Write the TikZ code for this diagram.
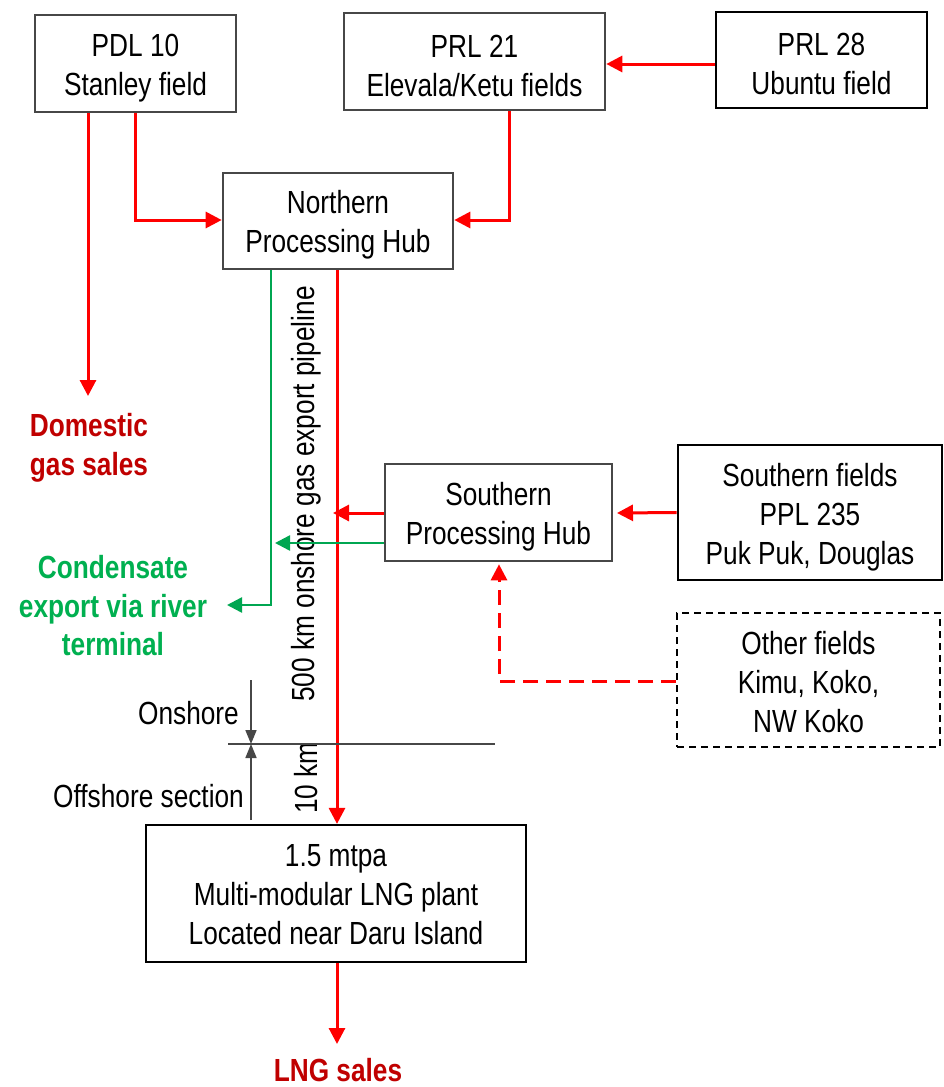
\documentclass[tikz,border=0pt]{standalone}
\usepackage{fontspec}
\setmainfont{Liberation Sans}[FakeStretch=0.82]
\usetikzlibrary{arrows.meta,calc}
\definecolor{rd}{HTML}{FF0000}
\definecolor{dkred}{HTML}{C00000}
\definecolor{grn}{HTML}{00A651}
\definecolor{gtxt}{HTML}{00B050}
\newcommand\mystrut[1]{\rule{0pt}{#1}}
\begin{document}
\begin{tikzpicture}[x=1pt,y=-1pt,
  txt/.style={font=\fontsize{32}{39}\selectfont, align=center, inner sep=0pt},
  box/.style={txt, draw=black!72, line width=2.6pt},
  bbox/.style={txt, draw=black, line width=2.9pt},
  rline/.style={draw=rd, line width=3pt, -{Triangle[length=16pt,width=16pt]}},
  gline/.style={draw=grn, line width=2.5pt, -{Triangle[length=15pt,width=15pt]}},
  kline/.style={draw=black!72, line width=1.7pt, -{Triangle[length=14pt,width=11pt]}},
  outtxt/.style={txt, font=\fontsize{32}{38.5}\selectfont\bfseries},
]
\useasboundingbox (0,0) rectangle (943,1087);
\fill[white] (0,0) rectangle (943,1087);

\node[box, minimum width=201pt, minimum height=97pt] (pdl) at (135.5,63.5) {\mystrut{31pt}PDL 10\\Stanley field};
\node[box, minimum width=261pt, minimum height=97pt] (prl21) at (474.5,61.5) {\mystrut{31pt}PRL 21\\Elevala/Ketu fields};
\node[bbox, minimum width=211pt, minimum height=96pt] (prl28) at (821.5,60) {\mystrut{31pt}PRL 28\\Ubuntu field};
\node[box, minimum width=230pt, minimum height=96pt] (nph) at (338,221) {\mystrut{31pt}Northern\\Processing Hub};
\node[box, minimum width=227pt, minimum height=97pt] (sph) at (498.5,512.5) {\mystrut{32pt}Southern\\Processing Hub};
\node[bbox, minimum width=264pt, minimum height=135pt] (sf) at (810,512.5) {\mystrut{32pt}Southern fields\\PPL 235\\Puk Puk, Douglas};
\node[txt, draw=black, line width=1.8pt, dash pattern=on 7pt off 5pt, minimum width=263pt, minimum height=134pt] (of) at (808.5,680) {\mystrut{28pt}Other fields\\Kimu, Koko,\\NW Koko};
\node[txt, draw=black, line width=2.2pt, minimum width=380pt, minimum height=137pt] (lng) at (336,893.5) {\mystrut{25pt}1.5 mtpa\\Multi-modular LNG plant\\Located near Daru Island};

\node[outtxt, text=dkred] (dom) at (89,448) {Domestic\\gas sales};
\node[outtxt, text=gtxt] (cond) at (113,606) {Condensate\\export via river\\terminal};
\node[outtxt, text=dkred] (lngs) at (338,1070) {LNG sales};

\node[txt, rotate=90] (pipe) at (306,494) {500 km onshore gas export pipeline};
\node[txt, rotate=90] (tenkm) at (306,778) {10 km};
\node[txt, anchor=east] (onsh) at (239,713) {Onshore};
\node[txt, anchor=east] (offsh) at (244,796) {Offshore section};

% coordinates
\coordinate (domtip) at (88,396);
\coordinate (b1) at (135,220);
\coordinate (b2) at (509,220);
\coordinate (gcorner) at (271,605);
\coordinate (gtip) at (227,605);
\coordinate (rtip) at (333,513);
\coordinate (g2tip) at (275,543);
\coordinate (dcorner) at (499,681);
\coordinate (lngtip) at (337,1044);
\coordinate (hl) at (228,744);
\coordinate (hr) at (495,744);
\coordinate (onstart) at (251,680);
\coordinate (offstart) at (251,820);
\coordinate (sfarrow) at (617,513);
\coordinate (pipex) at (337,0);

% red connections
\draw[rline] (pdl.south -| domtip) -- (domtip);
\draw[rline] (pdl.south -| b1) -- (b1) -- (nph.west |- b1);
\draw[rline] (prl21.south -| b2) -- (b2) -- (nph.east |- b2);
\draw[rline] (prl28.west |- 0,64) -- (prl21.east |- 0,64);
\draw[rline] (nph.south -| pipex) -- (lng.north -| pipex);
\draw[rline] (sph.west |- rtip) -- (rtip);
\draw[rline] (sf.west) -- (sfarrow);
\draw[rline, dash pattern=on 15pt off 8pt] (of.west |- dcorner) -- (dcorner) -- ($(sph.south -| dcorner)+(0,2)$);
\draw[rline] (lng.south -| lngtip) -- (lngtip);

% green connections
\draw[gline] (nph.south -| gcorner) -- (gcorner) -- (gtip);
\draw[gline] (sph.west |- g2tip) -- (g2tip);

% onshore / offshore marker
\draw[draw=black!72, line width=1.7pt] (hl) -- (hr);
\draw[kline] (onstart) -- (onstart |- hl);
\draw[kline] (offstart) -- (offstart |- hl);
\end{tikzpicture}
\end{document}
